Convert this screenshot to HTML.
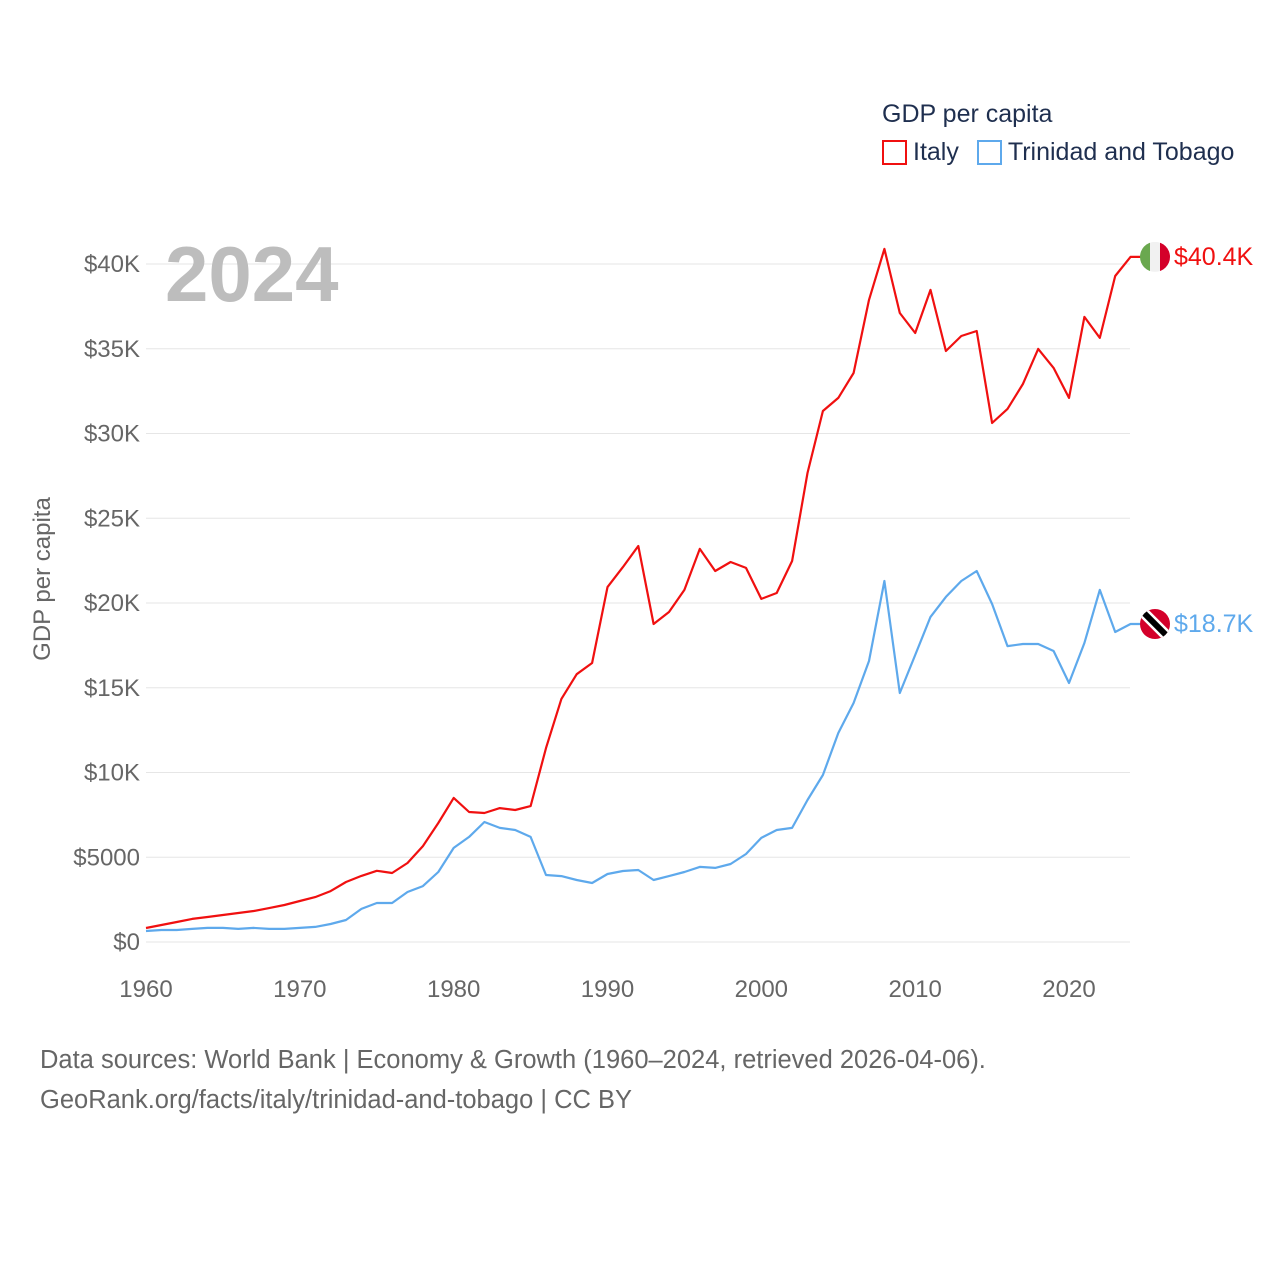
<!DOCTYPE html>
<html><head><meta charset="utf-8"><style>
body{margin:0;background:#fff;font-family:"Liberation Sans",sans-serif}
svg text{font-family:"Liberation Sans",sans-serif}
</style></head><body>
<svg id="c" width="1280" height="1280" viewBox="0 0 1280 1280"></svg>
<script>
const years=[];for(let y=1960;y<=2024;y++)years.push(y);
const italy=[826,1000,1180,1360,1475,1590,1710,1830,2000,2180,2420,2650,3000,3540,3900,4200,4070,4660,5660,7020,8500,7670,7610,7900,7790,8020,11440,14340,15800,16460,20940,22120,23360,18760,19470,20770,23190,21890,22420,22070,20240,20590,22480,27670,31330,32100,33570,37880,40890,37110,35930,38470,34870,35750,36050,30620,31450,32920,34990,33870,32100,36880,35640,39290,40420];
const tto=[650,710,710,770,830,830,770,830,770,770,830,890,1060,1300,1950,2300,2300,2950,3300,4130,5550,6200,7080,6730,6610,6200,3950,3890,3660,3480,4010,4190,4250,3660,3890,4130,4430,4370,4600,5190,6140,6610,6730,8380,9850,12330,14100,16580,21300,14690,16930,19180,20360,21300,21890,19940,17460,17580,17580,17170,15280,17640,20770,18290,18760];
const yTicks=[0,5000,10000,15000,20000,25000,30000,35000,40000];
const yTickLabels=["$0","$5000","$10K","$15K","$20K","$25K","$30K","$35K","$40K"];
const xTicks=[1960,1970,1980,1990,2000,2010,2020];
const NS="http://www.w3.org/2000/svg";
const svg=document.getElementById('c');
const X=y=>146+(y-1960)*(1069-146)/60;
const Y=v=>942-v*(942-264)/40000;
function el(t,a,p){const e=document.createElementNS(NS,t);for(const k in a)e.setAttribute(k,a[k]);(p||svg).appendChild(e);return e;}
function tx(s,a){const e=el('text',a);e.textContent=s;return e;}
yTicks.forEach((v,i)=>{
 const g=el('line',{x1:146,x2:1130,y1:Y(v),y2:Y(v),stroke:'#e6e6e6','stroke-width':1});
 
 
 const t=tx(yTickLabels[i],{x:140,y:Y(v)+8,'text-anchor':'end','font-size':24,fill:'#666'});
 
 
});
xTicks.forEach(y=>{
 const t=tx(String(y),{x:X(y),y:997,'text-anchor':'middle','font-size':24,fill:'#666'});
 
 
});
const yt=tx('GDP per capita',{x:0,y:0,transform:'translate(50,579) rotate(-90)','text-anchor':'middle','font-size':24,fill:'#666'});


const yr=tx('2024',{x:165,y:301,'font-size':78,'font-weight':'bold',fill:'#bdbdbd'});


function series(vals,color,name){
 let d=vals.map((v,i)=>(i?'L':'M')+X(years[i]).toFixed(1)+','+Y(v).toFixed(1)).join(' ');
 d+=' L1145,'+Y(vals[vals.length-1]).toFixed(1);
 const p=el('path',{d:d,fill:'none',stroke:color,'stroke-width':2.2,'stroke-linejoin':'round'});
 
 
}
series(tto,'#5ea9ec','trinidad');
series(italy,'#f01010','italy');
const iy=Y(italy[italy.length-1]);
const defs=el('defs',{});
const cp1=el('clipPath',{id:'cI'},defs);el('circle',{cx:1155,cy:iy,r:15},cp1);
const cp2=el('clipPath',{id:'cT'},defs);
const ty=Y(tto[tto.length-1]);el('circle',{cx:1155,cy:ty,r:15},cp2);
const fi=el('g',{'clip-path':'url(#cI)'});


el('rect',{x:1140,y:iy-15,width:10,height:30,fill:'#6aa84f'},fi);
el('rect',{x:1150,y:iy-15,width:10,height:30,fill:'#f1f1f1'},fi);
el('rect',{x:1160,y:iy-15,width:10,height:30,fill:'#d4002a'},fi);
const ft=el('g',{'clip-path':'url(#cT)'});


el('rect',{x:1140,y:ty-15,width:30,height:30,fill:'#d4002a'},ft);
el('line',{x1:1140,y1:ty-15,x2:1170,y2:ty+15,stroke:'#fff','stroke-width':11},ft);
el('line',{x1:1140,y1:ty-15,x2:1170,y2:ty+15,stroke:'#000','stroke-width':6},ft);
const li=tx('$40.4K',{x:1174,y:iy+8,'font-size':25,fill:'#f01010'});


const lt=tx('$18.7K',{x:1174,y:ty+8,'font-size':25,fill:'#5ea9ec'});


</script>
<div style="position:absolute;left:882px;top:100px;color:#1f2f4f;font-size:25px">
 <div>GDP per capita</div>
 <div style="margin-top:9px;display:flex;align-items:center;white-space:nowrap">
  <span style="display:flex;align-items:center"><span style="width:25px;height:25px;border:2px solid #f01010;box-sizing:border-box;display:inline-block;margin-right:6px"></span>Italy</span>
  <span style="display:flex;align-items:center;margin-left:18px"><span style="width:25px;height:25px;border:2px solid #5ea9ec;box-sizing:border-box;display:inline-block;margin-right:6px"></span>Trinidad and Tobago</span>
 </div>
</div>
<div style="position:absolute;left:40px;top:1040px;color:#666;font-size:25.5px;line-height:40px;white-space:nowrap">Data sources: World Bank | Economy &amp; Growth (1960–2024, retrieved 2026-04-06).<br>GeoRank.org/facts/italy/trinidad-and-tobago | CC BY</div>
</body></html>
